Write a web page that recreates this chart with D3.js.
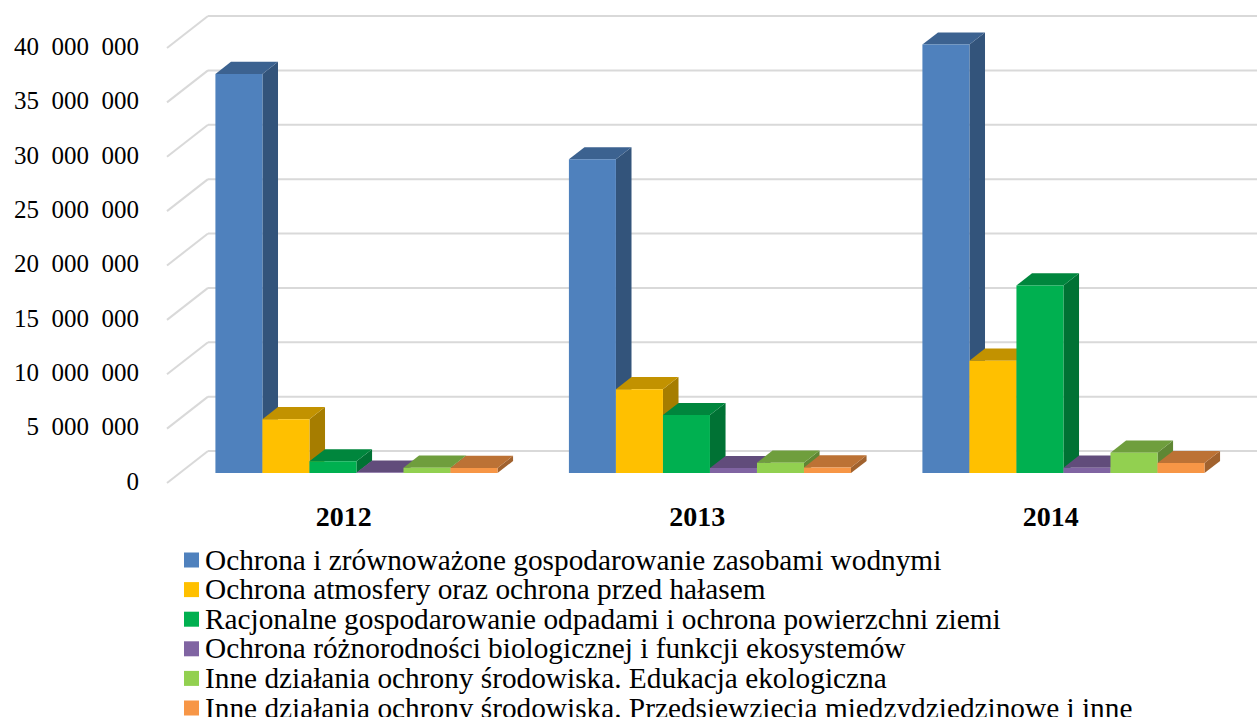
<!DOCTYPE html>
<html>
<head>
<meta charset="utf-8">
<script src="https://cdn.jsdelivr.net/npm/d3@7"></script>
<style>
  body { margin: 0; background: #fff; }
  svg { display: block; }
  text { font-family: "Liberation Serif", "Times New Roman", serif; fill: #000; }
</style>
</head>
<body>
<div id="chart"></div>
<script>
// Data
const years = ["2012", "2013", "2014"];
const seriesNames = [
    "Ochrona i zrównoważone gospodarowanie zasobami wodnymi",
    "Ochrona atmosfery oraz ochrona przed hałasem",
    "Racjonalne gospodarowanie odpadami i ochrona powierzchni ziemi",
    "Ochrona różnorodności biologicznej i funkcji ekosystemów",
    "Inne działania ochrony środowiska. Edukacja ekologiczna",
    "Inne działania ochrony środowiska. Przedsięwzięcia międzydziedzinowe i inne"
];
const seriesColors = ["#4F81BD", "#FFC000", "#00B050", "#8064A2", "#92D050", "#F79646"];
const values = [
    [36700000, 28850000, 39400000],
    [4950000, 7720000, 10330000],
    [1080000, 5330000, 17260000],
    [50000, 460000, 490000],
    [490000, 950000, 1870000],
    [470000, 520000, 920000]
];
const yTicks = [0, 5000000, 10000000, 15000000, 20000000, 25000000, 30000000, 35000000, 40000000];

// Dimensions
const width = 1257;
const height = 717;
const plot = { left: 167, right: 1227.5, bottom: 483, top: 48 };
const depth = { dx: 41, dy: -32 };     // full depth of the floor
const barZ = [0.31, 0.69];             // bar front/back as fraction of depth

const svg = d3.select("#chart")
    .append("svg")
    .attr("width", width)
    .attr("height", height);

// Scales
const xScale = d3.scaleBand()
    .domain(years)
    .range([plot.left, plot.right])
    .padding(0);

const xInner = d3.scaleBand()
    .domain(d3.range(seriesNames.length))
    .range([xScale.bandwidth() * 0.101, xScale.bandwidth() * 0.899])
    .padding(0);

const yScale = d3.scaleLinear()
    .domain([0, 40000000])
    .range([plot.bottom, plot.top]);

// Project a point with depth z in [0,1]
const proj = (x, y, z) => [x + depth.dx * z, y + depth.dy * z];

const shade = (c, k) => {
    const r = d3.rgb(c);
    return d3.rgb(r.r * k, r.g * k, r.b * k).formatHex();
};

// Gridlines: back wall and left wall
const grid = svg.append("g");
yTicks.forEach(t => {
    const yf = yScale(t);
    const back = proj(plot.left, yf, 1);
    grid.append("line")
        .attr("x1", back[0]).attr("y1", back[1])
        .attr("x2", width + 20).attr("y2", back[1])
        .attr("stroke", "#D9D9D9").attr("stroke-width", 2);
    grid.append("line")
        .attr("x1", plot.left).attr("y1", yf)
        .attr("x2", back[0]).attr("y2", back[1])
        .attr("stroke", "#D9D9D9").attr("stroke-width", 2);
});

// Y axis tick labels
const fmt = v => d3.format(",")(v).replace(/,/g, "\u2007");
svg.append("g")
    .selectAll("text")
    .data(yTicks)
    .join("text")
    .attr("x", 139)
    .attr("y", d => yScale(d) - 2)
    .attr("dy", "0.35em")
    .attr("text-anchor", "end")
    .style("font-size", "25px")
    .text(fmt);

// Bars (drawn left to right so later fronts cover earlier sides)
const bars = svg.append("g");
years.forEach((yr, j) => {
    seriesNames.forEach((name, i) => {
        const v = values[i][j];
        const x0 = xScale(yr) + xInner(i);
        const x1 = x0 + xInner.bandwidth();
        const y0 = yScale(0);
        const y1 = yScale(v);
        const c = seriesColors[i];
        const fz = barZ[0], bz = barZ[1];
        const p = (x, y, z) => proj(x, y, z).join(",");

        // right side
        bars.append("polygon")
            .attr("points", [p(x1, y0, fz), p(x1, y0, bz), p(x1, y1, bz), p(x1, y1, fz)].join(" "))
            .attr("fill", shade(c, 0.65));
        // top
        bars.append("polygon")
            .attr("points", [p(x0, y1, fz), p(x1, y1, fz), p(x1, y1, bz), p(x0, y1, bz)].join(" "))
            .attr("fill", shade(c, 0.76));
        // front
        bars.append("polygon")
            .attr("points", [p(x0, y0, fz), p(x1, y0, fz), p(x1, y1, fz), p(x0, y1, fz)].join(" "))
            .attr("fill", c);
    });
});

// Category labels
svg.append("g")
    .selectAll("text")
    .data(years)
    .join("text")
    .attr("x", d => xScale(d) + xScale.bandwidth() / 2)
    .attr("y", 516)
    .attr("dy", "0.35em")
    .attr("text-anchor", "middle")
    .style("font-size", "28px")
    .style("font-weight", "bold")
    .text(d => d);

// Legend
const legend = svg.append("g")
    .selectAll("g")
    .data(seriesNames)
    .join("g")
    .attr("transform", (d, i) => `translate(184, ${560 + i * 29.6})`);

legend.append("rect")
    .attr("x", 0)
    .attr("y", -7.5)
    .attr("width", 15)
    .attr("height", 15)
    .attr("fill", (d, i) => seriesColors[i]);

legend.append("text")
    .attr("x", 21)
    .attr("y", 0)
    .attr("dy", "0.33em")
    .style("font-size", "29.3px")
    .text(d => d);
</script>
</body>
</html>
